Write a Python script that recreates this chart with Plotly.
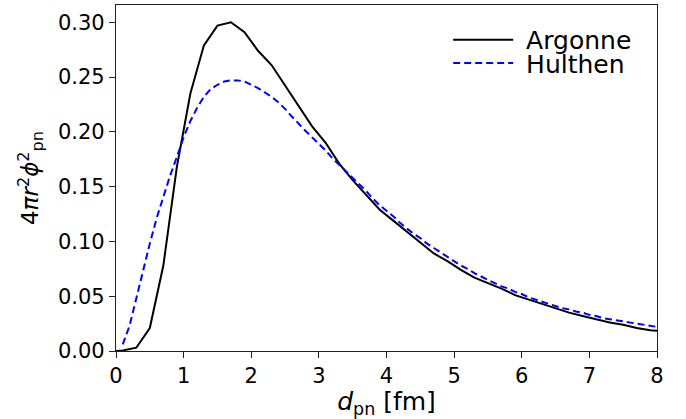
import plotly.graph_objects as go

argonne_x = [0.0, 0.1, 0.3, 0.5, 0.7, 0.9, 1.1, 1.3, 1.5, 1.7, 1.9, 2.1, 2.3, 2.5, 2.7, 2.9,
             3.1, 3.3, 3.5, 3.7, 3.9, 4.1, 4.3, 4.5, 4.7, 4.9, 5.1, 5.3, 5.5, 5.7, 5.9,
             6.1, 6.3, 6.5, 6.7, 6.9, 7.1, 7.3, 7.5, 7.7, 7.9, 8.0]
argonne_y = [0.0, 0.0005, 0.003, 0.021, 0.078, 0.168, 0.235, 0.279, 0.297, 0.300, 0.291,
             0.274, 0.261, 0.242, 0.223, 0.205, 0.190, 0.171, 0.156, 0.142, 0.129, 0.119,
             0.109, 0.0995, 0.089, 0.082, 0.074, 0.067, 0.062, 0.057, 0.051, 0.047, 0.043,
             0.039, 0.035, 0.032, 0.029, 0.026, 0.024, 0.021, 0.019, 0.0185]

hulthen_x = [round(0.1 * i, 1) for i in range(1, 81)]
hulthen_y = [0.006, 0.023, 0.048, 0.074, 0.098, 0.121, 0.141, 0.160, 0.177, 0.195,
             0.210, 0.222, 0.232, 0.239, 0.243, 0.246, 0.247, 0.247, 0.246, 0.243,
             0.240, 0.236, 0.232, 0.227, 0.221, 0.214, 0.207, 0.201, 0.195, 0.189,
             0.183, 0.176, 0.170, 0.164, 0.158, 0.152, 0.146, 0.139, 0.133, 0.128,
             0.123, 0.117, 0.112, 0.107, 0.103, 0.098, 0.094, 0.090, 0.086, 0.082,
             0.078, 0.075, 0.071, 0.068, 0.065, 0.062, 0.059, 0.057, 0.054, 0.052,
             0.049, 0.047, 0.045, 0.043, 0.041, 0.039, 0.038, 0.036, 0.035, 0.033,
             0.032, 0.030, 0.029, 0.028, 0.027, 0.026, 0.025, 0.024, 0.023, 0.022]

series_names = ["Argonne", "Hulthen"]
x_ticks = [0, 1, 2, 3, 4, 5, 6, 7, 8]
y_ticks = [0.00, 0.05, 0.10, 0.15, 0.20, 0.25, 0.30]

font = "DejaVu Sans"
NBSP = "\u00a0"

fig = go.Figure()
fig.add_trace(go.Scatter(x=argonne_x, y=argonne_y, mode="lines",
                         name=NBSP + series_names[0],
                         line=dict(color="black", width=2), legend="legend"))
fig.add_trace(go.Scatter(x=hulthen_x, y=hulthen_y, mode="lines",
                         name=NBSP + series_names[1],
                         line=dict(color="blue", width=2, dash="7px,4px"), legend="legend2"))

axis_common = dict(showgrid=False, zeroline=False, showline=True, linecolor="#222",
                   linewidth=1.3, mirror=True, ticks="outside", ticklen=6, tickwidth=1.2,
                   tickcolor="#222", automargin=False, tickfont=dict(size=21))

leg_common = dict(xanchor="left", yanchor="middle", bgcolor="rgba(0,0,0,0)",
                  borderwidth=0, font=dict(family=font, size=25), itemwidth=60)

fig.update_layout(
    width=686, height=419,
    margin=dict(l=116, r=29, t=5, b=68),
    paper_bgcolor="white", plot_bgcolor="white",
    font=dict(family=font, size=21, color="black"),
    showlegend=True,
    legend=dict(x=0.614, y=0.899, **leg_common),
    legend2=dict(x=0.614, y=0.832, **leg_common),
    xaxis=dict(range=[0, 8], tickvals=x_ticks, ticktext=[str(v) for v in x_ticks],
               title=dict(text="<i>d</i><sub>pn</sub> [fm]", font=dict(size=25),
                          standoff=2),
               **axis_common),
    yaxis=dict(range=[0, 0.3158], tickvals=y_ticks,
               ticktext=["%.2f" % v for v in y_ticks],
               title=dict(text="4<i>πr</i><sup>2</sup><i>ϕ</i><sup>2</sup><sub>pn</sub>",
                          font=dict(size=23), standoff=12),
               **axis_common),
)

fig.write_html("out.html", config={"displayModeBar": False},
               post_script="document.body.style.margin='0';")
